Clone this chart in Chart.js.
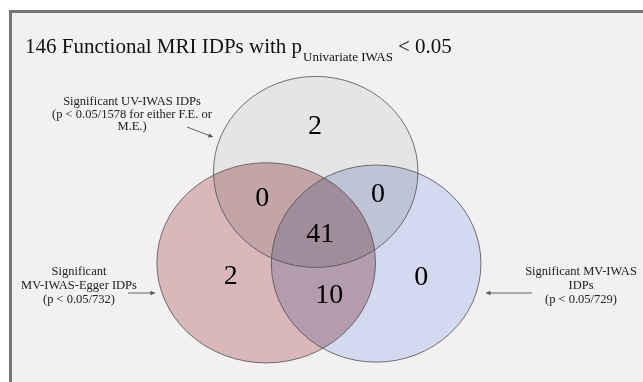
<!DOCTYPE html>
<html>
<head>
<meta charset="utf-8">
<script src="https://cdn.jsdelivr.net/npm/chart.js@4/dist/chart.umd.min.js"></script>
<style>
  body { margin: 0; background: #fff; }
  #frame {
    position: absolute; left: 9px; top: 10px; width: 634px; height: 372px;
    box-sizing: border-box; background: #f2f0f0;
    border-top: 3px solid #777; border-left: 3px solid #777;
  }
  #venn { position: absolute; left: 0; top: 0; }
</style>
</head>
<body>
<div id="frame"></div>
<canvas id="venn" width="643" height="382"></canvas>
<script>
// the three sets (centre and radii in chart units, x 0-100, y 0-100)
const setNames = ['Significant UV-IWAS IDPs', 'Significant MV-IWAS-Egger IDPs', 'Significant MV-IWAS IDPs'];
const setCx = [49.1, 41.4, 58.5];
const setCy = [55.0, 31.2, 31.0];
const setRx = [15.9, 17.0, 16.3];
const setRy = [25.0, 26.2, 25.8];
const setColors = ['#e6e5e5', '#d9b7ba', '#d3d9ef'];

// counts for each region of the diagram
const regionNames = ['UV only', 'UV & Egger', 'UV & MV', 'all three', 'Egger only', 'Egger & MV', 'MV only'];
const regionCounts = [2, 0, 0, 41, 2, 10, 0];
const regionX = [49.0, 40.8, 58.8, 49.8, 35.9, 51.2, 65.5];
const regionY = [66.8, 47.9, 49.0, 38.5, 27.5, 22.5, 27.2];

// side notes with arrows (pixels)
const notes = [
  { lines: ['Significant UV-IWAS IDPs', '(p < 0.05/1578 for either F.E. or', 'M.E.)'], x: 132, y: 102, lh: 12.5, from: [187, 127], to: [213, 137] },
  { lines: ['Significant', 'MV-IWAS-Egger IDPs', '(p < 0.05/732)'], x: 79, y: 272, lh: 14, from: [128, 293], to: [155, 293] },
  { lines: ['Significant MV-IWAS', 'IDPs', '(p < 0.05/729)'], x: 581, y: 272, lh: 14, from: [532, 293], to: [486, 293] }
];

const serif = '"Liberation Serif", "DejaVu Serif", serif';

function arrow(ctx, from, to) {
  const ang = Math.atan2(to[1] - from[1], to[0] - from[0]);
  ctx.beginPath();
  ctx.moveTo(from[0], from[1]);
  ctx.lineTo(to[0], to[1]);
  ctx.stroke();
  ctx.beginPath();
  ctx.moveTo(to[0], to[1]);
  ctx.lineTo(to[0] - 5 * Math.cos(ang - 0.45), to[1] - 5 * Math.sin(ang - 0.45));
  ctx.lineTo(to[0] - 5 * Math.cos(ang + 0.45), to[1] - 5 * Math.sin(ang + 0.45));
  ctx.closePath();
  ctx.fill();
}

const vennPlugin = {
  id: 'venn',
  beforeDatasetsDraw(chart) {
    const ctx = chart.ctx;
    const xs = chart.scales.x, ys = chart.scales.y;
    const meta = chart.getDatasetMeta(0);
    const shapes = meta.data.map((pt, i) => ({
      x: pt.x, y: pt.y,
      rx: Math.abs(xs.getPixelForValue(setCx[i] + setRx[i]) - pt.x),
      ry: Math.abs(ys.getPixelForValue(setCy[i] + setRy[i]) - pt.y)
    }));
    ctx.save();
    ctx.globalCompositeOperation = 'multiply';
    shapes.forEach((s, i) => {
      ctx.beginPath();
      ctx.ellipse(s.x, s.y, s.rx, s.ry, 0, 0, Math.PI * 2);
      ctx.fillStyle = setColors[i];
      ctx.fill();
    });
    ctx.globalCompositeOperation = 'source-over';
    ctx.strokeStyle = '#4f4f4f';
    ctx.lineWidth = 0.8;
    shapes.forEach(s => {
      ctx.beginPath();
      ctx.ellipse(s.x, s.y, s.rx, s.ry, 0, 0, Math.PI * 2);
      ctx.stroke();
    });
    ctx.restore();
  },
  afterDatasetsDraw(chart) {
    const ctx = chart.ctx;
    ctx.save();
    // region counts
    ctx.fillStyle = '#000';
    ctx.font = '28px ' + serif;
    ctx.textAlign = 'center';
    ctx.textBaseline = 'middle';
    chart.getDatasetMeta(1).data.forEach((pt, i) => {
      ctx.fillText(String(regionCounts[i]), pt.x, pt.y);
    });

    // notes
    ctx.font = '12.5px ' + serif;
    ctx.strokeStyle = '#555';
    ctx.lineWidth = 0.9;
    notes.forEach(n => {
      ctx.fillStyle = '#222';
      n.lines.forEach((t, j) => ctx.fillText(t, n.x, n.y + j * n.lh));
      ctx.fillStyle = '#555';
      arrow(ctx, n.from, n.to);
    });

    // title with subscript
    ctx.textAlign = 'left';
    ctx.textBaseline = 'alphabetic';
    ctx.fillStyle = '#111';
    let x = 25;
    const main = '146 Functional MRI IDPs with p';
    ctx.font = '21px ' + serif;
    ctx.fillText(main, x, 53);
    x += ctx.measureText(main).width + 1;
    ctx.font = '13px ' + serif;
    ctx.fillText('Univariate IWAS', x, 61);
    x += ctx.measureText('Univariate IWAS').width + 5;
    ctx.font = '21px ' + serif;
    ctx.fillText('< 0.05', x, 53);
    ctx.restore();
  }
};

new Chart(document.getElementById('venn').getContext('2d'), {
  type: 'scatter',
  data: {
    datasets: [
      {
        label: 'Sets',
        data: setCx.map((x, i) => ({ x: x, y: setCy[i], name: setNames[i] })),
        pointRadius: 0
      },
      {
        label: 'Regions',
        data: regionX.map((x, i) => ({ x: x, y: regionY[i], name: regionNames[i] })),
        pointRadius: 0
      }
    ]
  },
  options: {
    responsive: false,
    animation: false,
    events: [],
    layout: { padding: 0 },
    plugins: { legend: { display: false }, tooltip: { enabled: false } },
    scales: {
      x: { display: false, min: 0, max: 100 },
      y: { display: false, min: 0, max: 100 }
    }
  },
  plugins: [vennPlugin]
});
</script>
</body>
</html>
